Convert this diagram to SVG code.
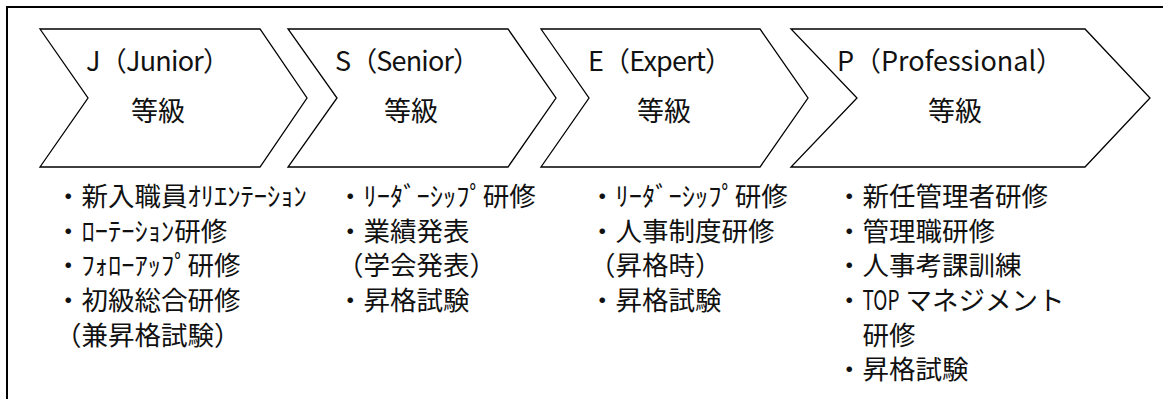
<svg xmlns="http://www.w3.org/2000/svg" width="1163" height="399" viewBox="0 0 1163 399">
<style>
.chev{fill:#fff;stroke:#000;stroke-width:1.3;stroke-linejoin:miter}
.border{fill:none;stroke:#000;stroke-width:2}
.hd{font-family:'Noto Sans CJK JP',sans-serif;font-size:27px;fill:#111}
.lv{font-family:'Noto Sans CJK JP',sans-serif;font-size:27px;fill:#111;text-anchor:middle}
.li{font-family:'Noto Sans CJK JP',sans-serif;font-size:26.5px;fill:#111}
</style>
<rect x="0" y="0" width="1163" height="399" fill="#fff"/>
<path class="border" d="M7,399 V7 H1163"/>
<g id="connectors"/>
<g id="node-j">
<polygon class="chev" points="40,29 260,29 307,98 260,167 40,167 88,98"/>
<text class="hd" x="86" y="71" textLength="144" lengthAdjust="spacing">J（Junior）</text>
<text class="lv" x="158" y="121">等級</text>
</g>
<g id="node-s">
<polygon class="chev" points="288,29 508,29 556,98 508,167 288,167 337,98"/>
<text class="hd" x="335" y="71" textLength="145" lengthAdjust="spacing">S（Senior）</text>
<text class="lv" x="411" y="121">等級</text>
</g>
<g id="node-e">
<polygon class="chev" points="541,29 760,29 808,98 760,167 541,167 589,98"/>
<text class="hd" x="588" y="71" textLength="144" lengthAdjust="spacing">E（Expert）</text>
<text class="lv" x="664" y="121">等級</text>
</g>
<g id="node-p">
<polygon class="chev" points="791,29 1085,29 1150,98 1085,167 791,167 857,98"/>
<text class="hd" x="837" y="71" textLength="226" lengthAdjust="spacing">P（Professional）</text>
<text class="lv" x="955" y="121">等級</text>
</g>
<g id="list-j">
<text class="li" x="55" y="206">・新入職員ｵﾘｴﾝﾃｰｼｮﾝ</text>
<text class="li" x="55" y="241">・ﾛｰﾃｰｼｮﾝ研修</text>
<text class="li" x="55" y="275">・ﾌｫﾛｰｱｯﾌﾟ研修</text>
<text class="li" x="55" y="310">・初級総合研修</text>
<text class="li" x="55" y="345">（兼昇格試験）</text>
</g>
<g id="list-s">
<text class="li" x="337" y="206">・ﾘｰﾀﾞｰｼｯﾌﾟ研修</text>
<text class="li" x="337" y="241">・業績発表</text>
<text class="li" x="337" y="275">（学会発表）</text>
<text class="li" x="337" y="310">・昇格試験</text>
</g>
<g id="list-e">
<text class="li" x="589" y="206">・ﾘｰﾀﾞｰｼｯﾌﾟ研修</text>
<text class="li" x="589" y="241">・人事制度研修</text>
<text class="li" x="589" y="275">（昇格時）</text>
<text class="li" x="589" y="310">・昇格試験</text>
</g>
<g id="list-p">
<text class="li" x="836" y="206">・新任管理者研修</text>
<text class="li" x="836" y="241">・管理職研修</text>
<text class="li" x="836" y="275">・人事考課訓練</text>
<text class="li" x="836" y="310">・<tspan textLength="37" lengthAdjust="spacingAndGlyphs">TOP</tspan> マネジメント</text>
<text class="li" x="862.5" y="345">研修</text>
<text class="li" x="836" y="379">・昇格試験</text>
</g>
</svg>
